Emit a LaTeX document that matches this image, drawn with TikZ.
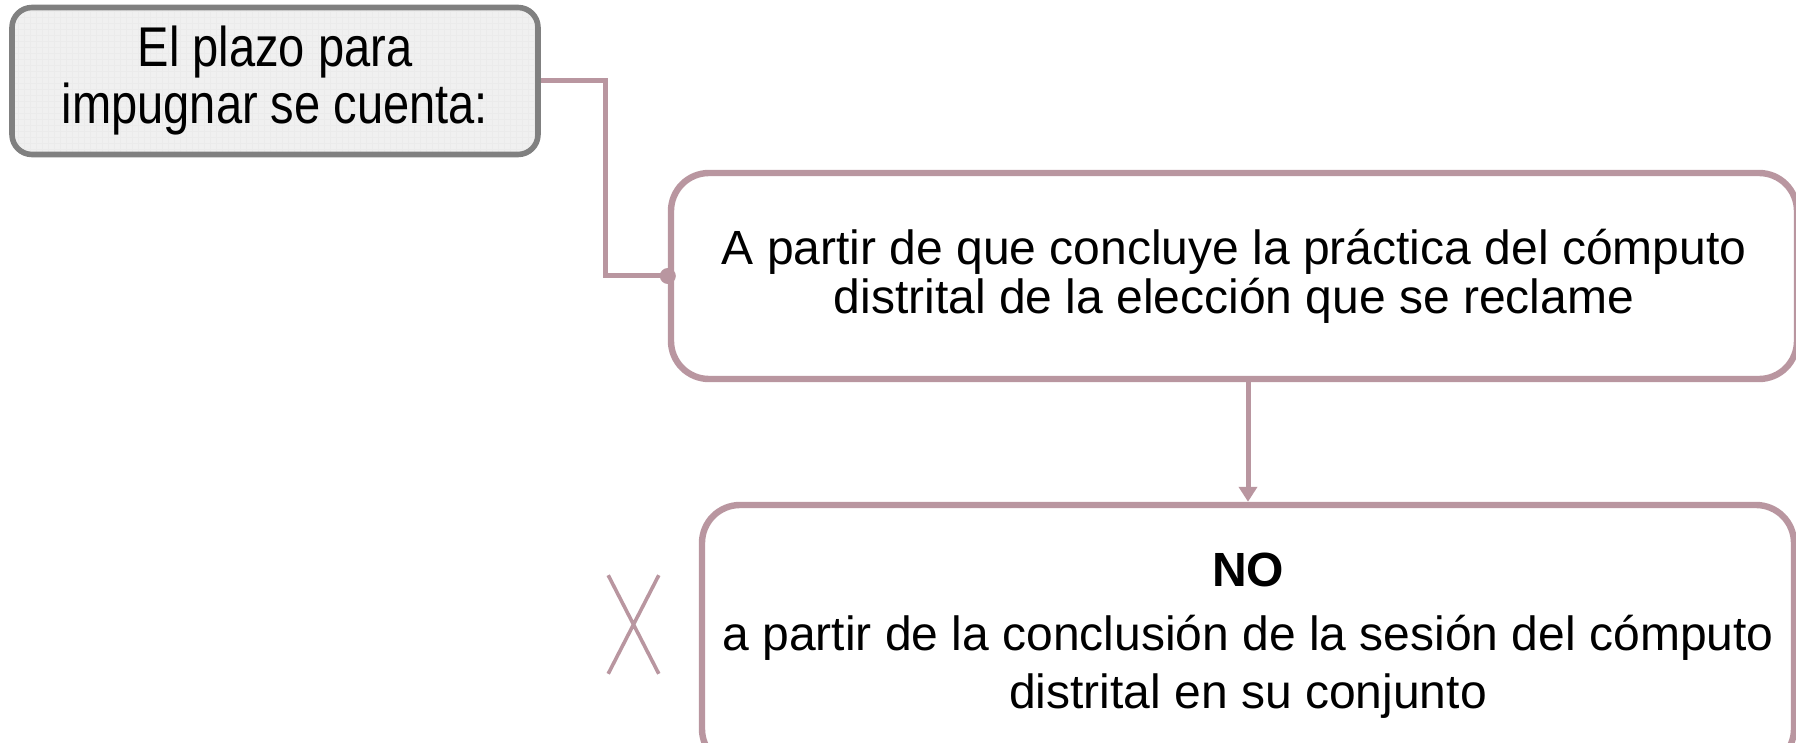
\documentclass[tikz,border=0pt]{standalone}
\usepackage{fontspec}
\setmainfont{Liberation Sans}
\newfontfamily\tallfont[FakeStretch=0.84]{Liberation Sans}
\usetikzlibrary{arrows.meta}
\usetikzlibrary{patterns}
\usetikzlibrary{positioning}
\usetikzlibrary{shapes.misc}
\definecolor{rose}{RGB}{185,150,160}
\definecolor{boxgrey}{RGB}{128,128,128}
\definecolor{boxfill}{RGB}{240,240,240}

\begin{document}
\begin{tikzpicture}[x=0.5pt,y=-0.5pt,
		startbox/.style={draw=boxgrey,line width=2.8pt,rounded corners=10pt,
			preaction={fill=boxfill},pattern=grid,pattern color=black!8,
			align=center,inner sep=0pt,minimum width=263pt,minimum height=73.5pt,
			font={\fontsize{28}{28.5}\tallfont}},
		rosebox/.style={draw=rose,line width=3.2pt,rounded corners=19pt,fill=white,
			align=center,inner sep=0pt,font={\fontsize{24}{24.5}\selectfont}},
		link/.style={draw=rose,line width=2.5pt}]
		\useasboundingbox (0,0) rectangle (1796,743);
		\clip (0,0) rectangle (1796,743);

		\node [startbox] (start) at (275,81) {El plazo para\\impugnar se cuenta:};
		\node [rosebox,minimum width=563pt,minimum height=103pt] (claim) at (1234,276)
			{A partir de que concluye la pr\'actica del c\'omputo\\
			distrital de la elecci\'on que se reclame};
		\node [rosebox,minimum width=546pt,minimum height=131pt,
			font={\fontsize{24}{29}\selectfont}] (reject) at (1248,636)
			{\textbf{NO}\\[3pt]a partir de la conclusi\'on de la sesi\'on del c\'omputo\\
			distrital en su conjunto};
		\node [cross out,draw=rose,line width=1.8pt,inner sep=0pt,
			minimum width=23.5pt,minimum height=47.5pt] (nomark) at (633.5,624.5) {};

		\draw [link] (start.east) -- ++(65,0) |- (claim.west);
		\fill [rose] (claim.west) circle (4pt);
		\draw [link,-{Triangle[width=9pt,length=7.5pt]}] (claim.south -| reject.north) -- (reject.north);
	\end{tikzpicture}
\end{document}
